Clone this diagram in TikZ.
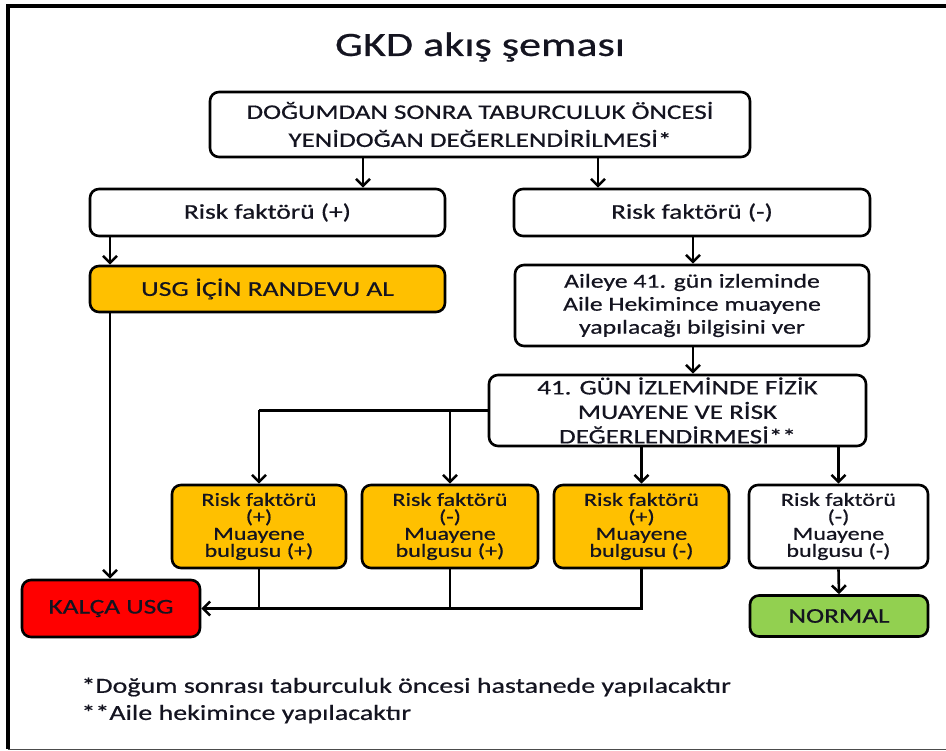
\documentclass[tikz,border=0pt]{standalone}
\usepackage{fontspec}
\setmainfont{Carlito}[FakeStretch=1.3,FakeBold=0.6]
\usetikzlibrary{arrows.meta,calc}
\definecolor{orng}{HTML}{FFC000}
\definecolor{rd}{HTML}{FF0000}
\definecolor{grn}{HTML}{92D050}
\definecolor{txt}{HTML}{141420}
\tikzset{
  box/.style={draw, line width=2.6pt, rounded corners=9pt, align=center, inner sep=0pt, fill=white, text=txt},
  ln/.style={line width=2.6pt},
  arr/.style={line width=2.6pt, -{Straight Barb[length=7pt,width=14pt,line width=2.6pt]}},
  big/.style={font=\fontsize{20.8}{28}\selectfont},
  med/.style={font=\fontsize{21}{25}\selectfont},
  sml/.style={font=\fontsize{18.5}{17}\selectfont},
}
\begin{document}
\begin{tikzpicture}[x=1pt,y=-1pt]
\useasboundingbox (0,0) rectangle (946,751);
% frame
\draw[line width=4pt] (8,749) -- (8,6) -- (946,6);
\draw[line width=1.5pt, black!70] (8,749.5) -- (946,749.5);
% title
\node[text=txt] (title) at (480,47) {\fontsize{34}{38}\selectfont GKD akış şeması};
% nodes
\node[box, big, minimum width=540pt, minimum height=65pt] (box1) at (480,124.5) {DOĞUMDAN SONRA TABURCULUK ÖNCESİ\\YENİDOĞAN DEĞERLENDİRİLMESİ*};
\node[box, med, minimum width=355pt, minimum height=47pt] (rp) at (267.5,212.5) {Risk faktörü (+)};
\node[box, med, minimum width=356pt, minimum height=47pt] (rm) at (692,212.5) {Risk faktörü (-)};
\node[box, font=\fontsize{21.2}{25}\selectfont, fill=orng, minimum width=355pt, minimum height=46pt] (usg) at (267.5,289) {USG İÇİN RANDEVU AL};
\node[box, font=\fontsize{19.8}{23}\selectfont, minimum width=354pt, minimum height=81pt] (aile) at (692,305.5) {Aileye 41. gün izleminde\\Aile Hekimince muayene\\yapılacağı bilgisini ver};
\node[box, font=\fontsize{20.8}{24.5}\selectfont, minimum width=377pt, minimum height=71pt] (gun) at (677.5,410.5) {41. GÜN İZLEMİNDE FİZİK\\MUAYENE VE RİSK\\DEĞERLENDİRMESİ**};
\node[box, sml, fill=orng, minimum width=174pt, minimum height=83pt] (b1) at (259,526.5) {Risk faktörü\\(+)\\Muayene\\bulgusu (+)};
\node[box, sml, fill=orng, minimum width=176pt, minimum height=83pt] (b2) at (450,526.5) {Risk faktörü\\(-)\\Muayene\\bulgusu (+)};
\node[box, sml, fill=orng, minimum width=175pt, minimum height=83pt] (b3) at (641.5,526.5) {Risk faktörü\\(+)\\Muayene\\bulgusu (-)};
\node[box, sml, minimum width=179pt, minimum height=83pt] (b4) at (838.5,526.5) {Risk faktörü\\(-)\\Muayene\\bulgusu (-)};
\node[box, font=\fontsize{21}{25}\selectfont, fill=rd, minimum width=178pt, minimum height=57pt] (kalca) at (111,608.5) {KALÇA USG};
\node[box, font=\fontsize{21}{25}\selectfont, fill=grn, minimum width=178pt, minimum height=41pt] (normal) at (839,616) {NORMAL};
% footnotes
\node[anchor=west, text=txt, font=\fontsize{21.5}{25}\selectfont] (fn1) at (78,687) {*Doğum sonrası taburculuk öncesi hastanede yapılacaktır};
\node[anchor=west, text=txt, font=\fontsize{21.5}{25}\selectfont] (fn2) at (78,714) {**Aile hekimince yapılacaktır};
% helper coordinates
\coordinate (c1) at (363,0);
\coordinate (c2) at (598,0);
\coordinate (c3) at (110,0);
\coordinate (c4) at (693,0);
% connectors
\draw[arr] (box1.south -| c1) -- (rp.north -| c1);
\draw[arr] (box1.south -| c2) -- (rm.north -| c2);
\draw[arr] (rp.south -| c3) -- (usg.north -| c3);
\draw[arr] (usg.south -| c3) -- (kalca.north -| c3);
\draw[arr] (rm.south -| c4) -- (aile.north -| c4);
\draw[arr] (aile.south -| c4) -- (gun.north -| c4);
\draw[ln] (gun.west) -- (gun.west -| b1.north);
\draw[arr] (gun.west -| b1.north) -- (b1.north);
\draw[arr] (gun.west -| b2.north) -- (b2.north);
\draw[arr] (gun.south -| b3.north) -- (b3.north);
\draw[arr] (gun.south -| b4.north) -- (b4.north);
\draw[ln] (b1.south) -- (b1.south |- kalca.east);
\draw[ln] (b2.south) -- (b2.south |- kalca.east);
\draw[arr] (b3.south) |- (kalca.east);
\draw[arr] (b4.south) -- (normal.north);
\end{tikzpicture}
\end{document}
